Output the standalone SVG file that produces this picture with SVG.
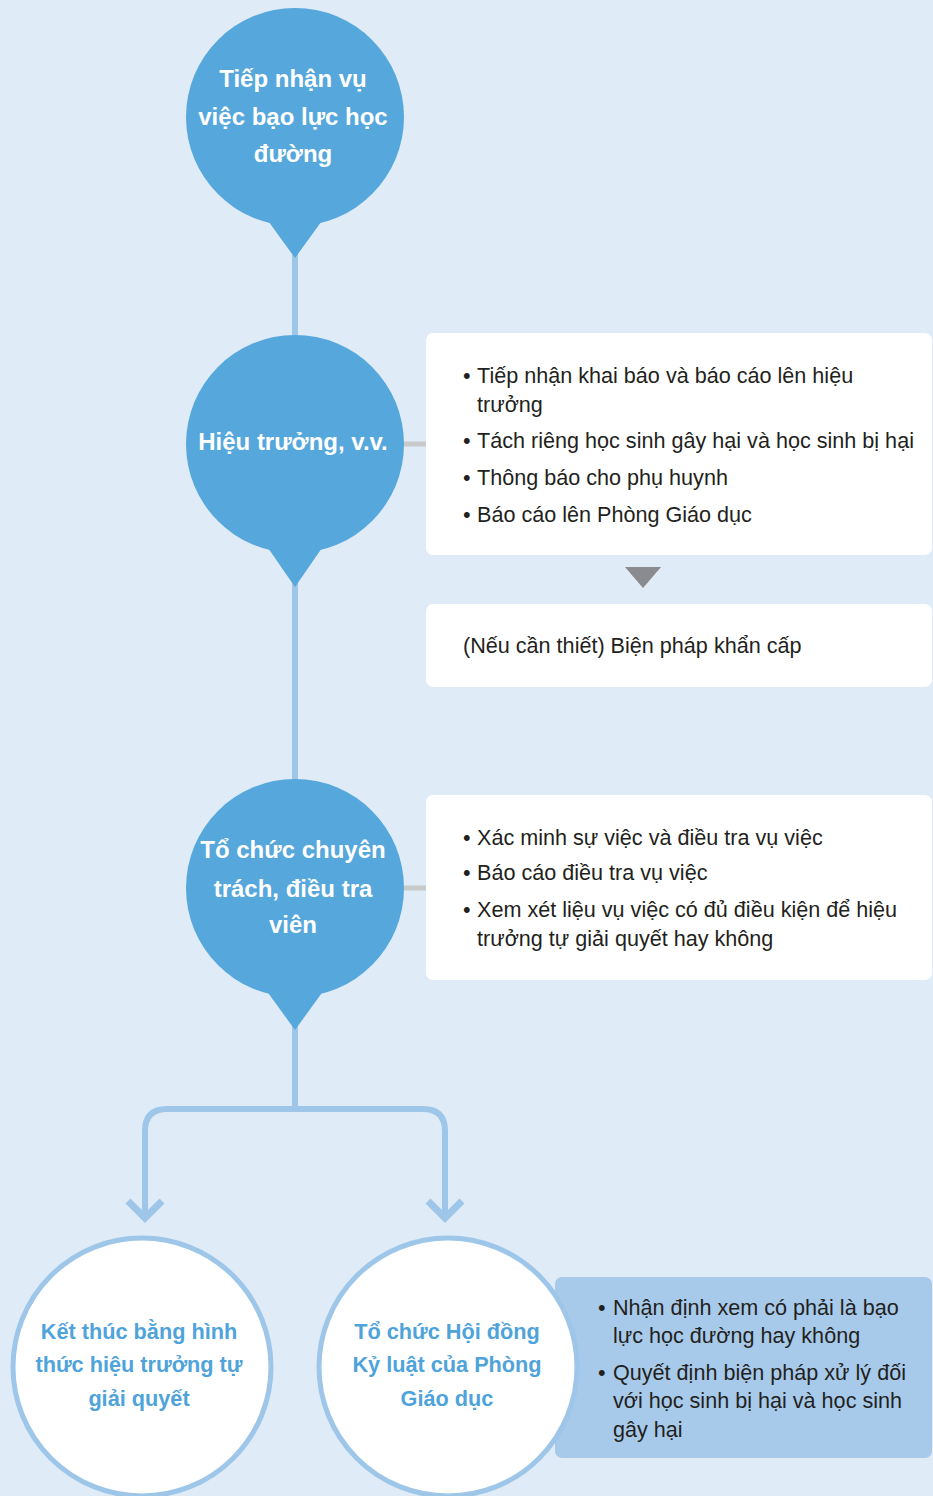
<svg xmlns="http://www.w3.org/2000/svg" width="933" height="1496" viewBox="0 0 933 1496">
<style>
.bg{fill:#DFEBF7}
.pin{fill:#55A7DC}
.ttl{font-family:"Liberation Sans",Arial,sans-serif;font-weight:bold;font-size:24px;fill:#FFFFFF;text-anchor:middle}
.box{fill:#FFFFFF}
.txt{font-family:"Liberation Sans",Arial,sans-serif;font-size:21.6px;fill:#231F20}
.ln{fill:none;stroke:#9DC6E9;stroke-width:6}
.ah{fill:none;stroke:#9DC6E9;stroke-width:7}
.gl{fill:none;stroke:#C8C9CA;stroke-width:5}
.end{fill:#FFFFFF;stroke:#9DC6E9;stroke-width:5}
.etx{font-family:"Liberation Sans",Arial,sans-serif;font-weight:bold;font-size:21.7px;fill:#4FA3DB;text-anchor:middle}
.panel{fill:#A7CAEB}
</style>
<rect class="bg" x="0" y="0" width="933" height="1496"/>
<g id="connectors">
<path class="ln" d="M295 226 V1109"/>
<path class="ln" d="M145 1214 V1131 Q145 1109 167 1109 H423 Q445 1109 445 1131 V1214"/>
<polyline class="ah" points="128,1201 145,1218 162,1201"/>
<polyline class="ah" points="428,1201 445,1218 462,1201"/>
<path class="gl" d="M404 444 H426"/>
<path class="gl" d="M404 888 H426"/>
<polygon fill="#898B8E" points="625,567 661,567 643,588"/>
</g>
<g id="n1">
<circle class="pin" cx="295" cy="117" r="109"/>
<polygon class="pin" points="266,218 324,218 295,258"/>
<text class="ttl"><tspan x="293" y="87">Tiếp nhận vụ</tspan><tspan x="293" y="125">việc bạo lực học</tspan><tspan x="293" y="162">đường</tspan></text>
</g>
<g id="n2">
<circle class="pin" cx="295" cy="444" r="109"/>
<polygon class="pin" points="266,545 324,545 295,587"/>
<text class="ttl" x="293" y="450">Hiệu trưởng, v.v.</text>
</g>
<g id="b1">
<rect class="box" x="426" y="333" width="506" height="222" rx="7"/>
<text class="txt"><tspan x="463" y="383">•</tspan><tspan x="477" y="383">Tiếp nhận khai báo và báo cáo lên hiệu</tspan><tspan x="477" y="412">trưởng</tspan><tspan x="463" y="448">•</tspan><tspan x="477" y="448">Tách riêng học sinh gây hại và học sinh bị hại</tspan><tspan x="463" y="485">•</tspan><tspan x="477" y="485">Thông báo cho phụ huynh</tspan><tspan x="463" y="522">•</tspan><tspan x="477" y="522">Báo cáo lên Phòng Giáo dục</tspan></text>
</g>
<g id="b2">
<rect class="box" x="426" y="604" width="506" height="83" rx="7"/>
<text class="txt" x="463" y="653">(Nếu cần thiết) Biện pháp khẩn cấp</text>
</g>
<g id="n3">
<circle class="pin" cx="295" cy="888" r="109"/>
<polygon class="pin" points="266,990 324,990 295,1030"/>
<text class="ttl"><tspan x="293" y="858">Tổ chức chuyên</tspan><tspan x="293" y="897">trách, điều tra</tspan><tspan x="293" y="933">viên</tspan></text>
</g>
<g id="b3">
<rect class="box" x="426" y="795" width="506" height="185" rx="7"/>
<text class="txt"><tspan x="463" y="845">•</tspan><tspan x="477" y="845">Xác minh sự việc và điều tra vụ việc</tspan><tspan x="463" y="880">•</tspan><tspan x="477" y="880">Báo cáo điều tra vụ việc</tspan><tspan x="463" y="917">•</tspan><tspan x="477" y="917">Xem xét liệu vụ việc có đủ điều kiện để hiệu</tspan><tspan x="477" y="946">trưởng tự giải quyết hay không</tspan></text>
</g>
<g id="n4">
<circle class="end" cx="142" cy="1367" r="129"/>
<text class="etx"><tspan x="139" y="1339">Kết thúc bằng hình</tspan><tspan x="139" y="1372">thức hiệu trưởng tự</tspan><tspan x="139" y="1406">giải quyết</tspan></text>
</g>
<g id="b4">
<rect class="panel" x="555" y="1277" width="377" height="181" rx="7"/>
<text class="txt"><tspan x="598" y="1315">•</tspan><tspan x="613" y="1315">Nhận định xem có phải là bạo</tspan><tspan x="613" y="1343">lực học đường hay không</tspan><tspan x="598" y="1380">•</tspan><tspan x="613" y="1380">Quyết định biện pháp xử lý đối</tspan><tspan x="613" y="1408">với học sinh bị hại và học sinh</tspan><tspan x="613" y="1437">gây hại</tspan></text>
</g>
<g id="n5">
<circle class="end" cx="448" cy="1367" r="129"/>
<text class="etx"><tspan x="447" y="1339">Tổ chức Hội đồng</tspan><tspan x="447" y="1372">Kỷ luật của Phòng</tspan><tspan x="447" y="1406">Giáo dục</tspan></text>
</g>
</svg>
